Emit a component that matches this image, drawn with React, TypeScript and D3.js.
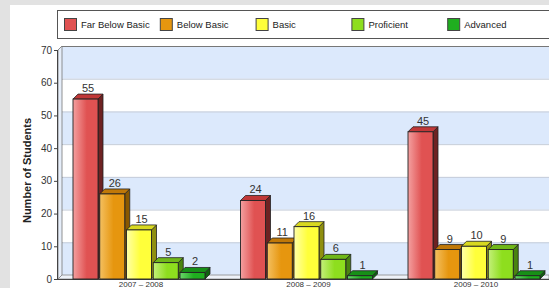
import React from 'react';
import * as d3 from 'd3';

const categories = ['2007 - 2008', '2008 - 2009', '2009 - 2010'];
const seriesNames = ['Far Below Basic', 'Below Basic', 'Basic', 'Proficient', 'Advanced'];
const farBelowBasic = [55, 24, 45];
const belowBasic = [26, 11, 9];
const basic = [15, 16, 10];
const proficient = [5, 6, 9];
const advanced = [2, 1, 1];
const yTicks = [0, 10, 20, 30, 40, 50, 60, 70];

const seriesValues = [farBelowBasic, belowBasic, basic, proficient, advanced];
const fills = ['#e05252', '#e6960f', '#ffff3a', '#8ede1e', '#1fae1f'];
const lights = ['#f4a0a0', '#f4c060', '#ffffa8', '#c4f07a', '#6ad66a'];
const sides = ['#6e2222', '#8a5800', '#8f8f10', '#4a8410', '#0f620f'];
const tops = ['#c03838', '#c07808', '#d8d820', '#70b818', '#179017'];

const W = 549;
const H = 288;
const depth = 5;
const wall = 4;

export default function App() {
  const y = d3.scaleLinear().domain([0, 70]).range([279, 50]);
  const x = d3.scaleBand<string>().domain(categories).range([58, 560.5]);
  const inner = d3.scaleBand<string>().domain(seriesNames).range([15, 147]).paddingInner(0.065);
  const legendX = d3.scaleBand<string>().domain(seriesNames).range([64, 543]);
  const bw = inner.bandwidth();
  const font = 'Tahoma, "Liberation Sans", Arial, sans-serif';

  const bands = d3.range(0, 70, 10);

  return (
    <svg width={W} height={H} style={{ position: 'absolute', left: 0, top: 0 }} fontFamily={font}>
      <defs>
        {fills.map((c, i) => (
          <linearGradient key={i} id={`g${i}`} x1="0" x2="1" y1="0" y2="0">
            <stop offset="0" stopColor={lights[i]} />
            <stop offset="0.55" stopColor={c} />
            <stop offset="1" stopColor={c} />
          </linearGradient>
        ))}
      </defs>
      <rect x={0} y={0} width={W} height={H} fill="#e2e2e2" />
      <rect x={10} y={5} width={W - 10} height={H - 5} fill="#ffffff" />

      {/* legend */}
      <rect x={57.5} y={10.5} width={520} height={28} fill="#fff" stroke="#555" strokeWidth={1} />
      {seriesNames.map((s, i) => (
        <g key={s} transform={`translate(${legendX(s)},18)`}>
          <rect x={0.5} y={0.5} width={12} height={12} fill={fills[i]} stroke="#444" />
          <text x={17} y={10} fontSize={9.5} fill="#222">{s}</text>
        </g>
      ))}

      {/* back wall bands */}
      {bands.map(v => (
        <rect key={v} x={58 + wall} y={y(v + 10) - wall} width={W} height={y(v) - y(v + 10)}
          fill={(v / 10) % 2 === 0 ? '#dce9fc' : '#ffffff'} />
      ))}
      {yTicks.map(v => (
        <g key={v}>
          <line x1={58 + wall} x2={W} y1={y(v) - wall + 0.5} y2={y(v) - wall + 0.5} stroke="#c4ccd8" />
          <line x1={58} x2={58 + wall} y1={y(v) + 0.5} y2={y(v) - wall + 0.5} stroke="#8a97a8" />
        </g>
      ))}
      {/* side wall */}
      <path d={`M58,${y(70)} L${58 + wall},${y(70) - wall} L${58 + wall},${y(0) - wall} L58,${y(0)} Z`}
        fill="#e6eefa" stroke="#777" strokeWidth={0.8} />
      {/* floor */}
      <path d={`M58,${y(0)} L${58 + wall},${y(0) - wall} L${W},${y(0) - wall} L${W},${y(0)} Z`}
        fill="#eef2f8" stroke="#888" strokeWidth={0.8} />
      <line x1={58 + wall} x2={W} y1={y(70) - wall + 0.5} y2={y(70) - wall + 0.5} stroke="#777" />

      {/* axis */}
      <line x1={57.5} x2={57.5} y1={y(70)} y2={y(0)} stroke="#444" />
      <line x1={57.5} x2={W} y1={y(0) + 0.5} y2={y(0) + 0.5} stroke="#444" />
      {yTicks.map(v => (
        <g key={v}>
          <line x1={54} x2={58} y1={y(v) + 0.5} y2={y(v) + 0.5} stroke="#444" />
          <text x={52} y={y(v) + 3.5} textAnchor="end" fontSize={10} fill="#333">{v}</text>
        </g>
      ))}
      <text transform={`translate(31,${(y(0) + y(70)) / 2 + 6}) rotate(-90)`} textAnchor="middle"
        fontSize={11} fontWeight="bold" fill="#222">Number of Students</text>

      {/* bars */}
      {categories.map((c, ci) => (
        <g key={c}>
          {seriesNames.map((s, si) => {
            const v = seriesValues[si][ci];
            const x0 = (x(c) as number) + (inner(s) as number);
            const yt = y(v);
            const yb = y(0);
            return (
              <g key={s}>
                <path d={`M${x0 + bw},${yt} L${x0 + bw + depth},${yt - depth} L${x0 + bw + depth},${yb - depth} L${x0 + bw},${yb} Z`}
                  fill={sides[si]} stroke="#222" strokeWidth={0.8} />
                <path d={`M${x0},${yt} L${x0 + depth},${yt - depth} L${x0 + bw + depth},${yt - depth} L${x0 + bw},${yt} Z`}
                  fill={tops[si]} stroke="#222" strokeWidth={0.8} />
                <rect x={x0} y={yt} width={bw} height={yb - yt} fill={`url(#g${si})`} stroke="#222" strokeWidth={0.9} />
                <text x={x0 + bw / 2 + depth / 2} y={yt - depth - 2} textAnchor="middle" fontSize={11} fill="#333">{v}</text>
              </g>
            );
          })}
          <text x={(x(c) as number) + 15 + 132 / 2 + 2} y={287} textAnchor="middle" fontSize={8} fill="#333">
            {c.replace(' - ', ' – ')}
          </text>
        </g>
      ))}
    </svg>
  );
}
